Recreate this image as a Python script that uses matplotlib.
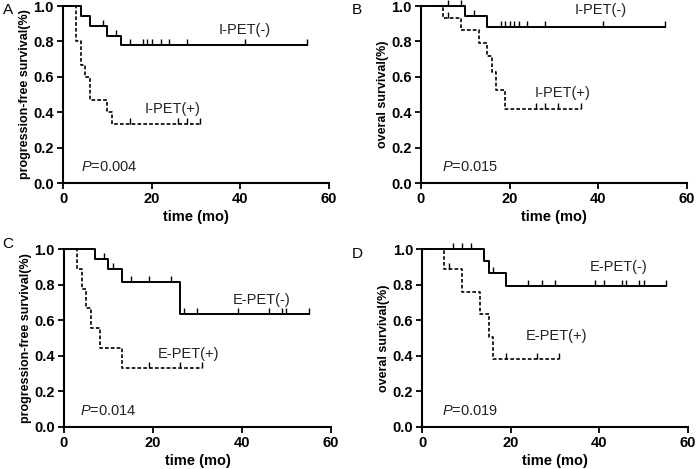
import numpy as np
import matplotlib
matplotlib.use("Agg")
import matplotlib.pyplot as plt

plt.rcParams['font.family'] = ['Liberation Sans', 'DejaVu Sans']
plt.rcParams['mathtext.fontset'] = 'custom'
plt.rcParams['mathtext.it'] = 'Liberation Sans:italic'
plt.rcParams['mathtext.rm'] = 'Liberation Sans'

# --- Datos (tiempos de evento, supervivencia, censuras) ---
# Panel A
a_neg_t = [4, 6, 10, 13]
a_neg_s = [0.944, 0.889, 0.833, 0.778]
a_neg_end = 55
a_neg_cens = [9, 12, 15, 18, 19, 20, 22, 24, 28, 41, 55]
a_pos_t = [3, 4, 5, 6, 10, 11]
a_pos_s = [0.8, 0.667, 0.6, 0.467, 0.4, 0.333]
a_pos_end = 31
a_pos_cens = [15, 26, 28, 31]

# Panel B
b_neg_t = [10, 15]
b_neg_s = [0.944, 0.88]
b_neg_end = 55
b_neg_cens = [6, 9, 12, 18, 19, 20, 21, 22, 24, 28, 41, 55]
b_pos_t = [5, 9, 13, 15, 16, 17, 19]
b_pos_s = [0.933, 0.862, 0.790, 0.717, 0.627, 0.523, 0.418]
b_pos_end = 36
b_pos_cens = [6, 26, 28, 31, 36]

# Panel C
c_neg_t = [7, 10, 13, 26]
c_neg_s = [0.944, 0.889, 0.815, 0.634]
c_neg_end = 55
c_neg_cens = [9, 11, 15, 19, 24, 27, 30, 39, 46, 49, 50, 55]
c_pos_t = [3, 4, 5, 6, 8, 13]
c_pos_s = [0.889, 0.778, 0.667, 0.556, 0.444, 0.333]
c_pos_end = 31
c_pos_cens = [19, 26, 31]

# Panel D
d_neg_t = [14, 15, 19]
d_neg_s = [0.933, 0.867, 0.795]
d_neg_end = 55
d_neg_cens = [7, 9, 11, 16, 24, 27, 30, 39, 41, 45, 46, 49, 50, 55]
d_pos_t = [5, 9, 13, 15, 16]
d_pos_s = [0.889, 0.762, 0.635, 0.508, 0.381]
d_pos_end = 31
d_pos_cens = [6, 19, 26, 31]

letters = ['A', 'B', 'C', 'D']
ylabels = ['progression-free survival(%)', 'overal survival(%)',
           'progression-free survival(%)', 'overal survival(%)']
neg_labels = ['I-PET(-)', 'I-PET(-)', 'E-PET(-)', 'E-PET(-)']
pos_labels = ['I-PET(+)', 'I-PET(+)', 'E-PET(+)', 'E-PET(+)']
p_values = ['0.004', '0.015', '0.014', '0.019']


def km_curve(ax, t, s, end, cens, dashed):
    # Construyo la curva escalonada desde t=0
    x = [0] + list(t) + [end]
    y = [1.0] + list(s) + [s[-1]]
    if dashed:
        ls, lw = (0, (2.2, 1.3)), 1.2
    else:
        ls, lw = '-', 1.4
    ax.step(x, y, where='post', color='black', ls=ls, lw=lw, clip_on=False)
    # Marcas de censura: valor del escalon en cada tiempo censurado
    yc = np.zeros(len(cens))
    for ci in range(len(cens)):
        idx = np.searchsorted(x, cens[ci], side='right') - 1
        yc[ci] = y[min(idx, len(y) - 1)]
    ax.plot(cens, yc, ls='none', marker=2, ms=4.5, mew=1.0, color='black', clip_on=False)


fig = plt.figure(figsize=(6.97, 4.69), dpi=100)
pos = [[0.0904, 0.6098, 0.3816, 0.3774],
       [0.6040, 0.6098, 0.3816, 0.3774],
       [0.0918, 0.0896, 0.3830, 0.3789],
       [0.6055, 0.0896, 0.3816, 0.3789]]

curves = [
    (a_neg_t, a_neg_s, a_neg_end, a_neg_cens, a_pos_t, a_pos_s, a_pos_end, a_pos_cens),
    (b_neg_t, b_neg_s, b_neg_end, b_neg_cens, b_pos_t, b_pos_s, b_pos_end, b_pos_cens),
    (c_neg_t, c_neg_s, c_neg_end, c_neg_cens, c_pos_t, c_pos_s, c_pos_end, c_pos_cens),
    (d_neg_t, d_neg_s, d_neg_end, d_neg_cens, d_pos_t, d_pos_s, d_pos_end, d_pos_cens),
]
neg_xy = [(35, 0.864), (34.7, 0.975), (38, 0.717), (37.9, 0.903)]
pos_xy = [(18.3, 0.42), (25.7, 0.506), (21.1, 0.41), (23.5, 0.51)]
p_xy = [(4.1, 0.09), (4.7, 0.09), (3.6, 0.09), (4.4, 0.09)]
letter_xy = [(0.004, 0.994), (0.504, 0.994), (0.003, 0.495), (0.505, 0.473)]

for i in range(4):
    ax = fig.add_axes(pos[i])
    nt, ns, ne, nc, pt, ps, pe, pc = curves[i]
    km_curve(ax, nt, ns, ne, nc, dashed=False)
    km_curve(ax, pt, ps, pe, pc, dashed=True)

    ax.set_xlim(0, 60)
    ax.set_ylim(0, 1.0)
    ax.set_xticks([0, 20, 40, 60])
    ax.set_yticks(np.arange(0, 1.01, 0.2))
    ax.set_yticklabels([f"{v:.1f}" for v in np.arange(0, 1.01, 0.2)])
    for sp in ['top', 'right']:
        ax.spines[sp].set_visible(False)
    for sp in ['left', 'bottom']:
        ax.spines[sp].set_linewidth(1.5)
    ax.tick_params(direction='out', length=4, width=1.3, labelsize=10.5, pad=2.5)
    for lab in ax.get_xticklabels() + ax.get_yticklabels():
        lab.set_fontweight('bold')
    ax.set_xlabel('time (mo)', fontsize=10.5, fontweight='bold', labelpad=3)
    ax.set_ylabel(ylabels[i], fontsize=9, fontweight='bold', labelpad=2)

    ax.text(neg_xy[i][0], neg_xy[i][1], neg_labels[i], fontsize=10.5, color='#222222', va='center')
    ax.text(pos_xy[i][0], pos_xy[i][1], pos_labels[i], fontsize=10.5, color='#222222', va='center')
    ax.text(p_xy[i][0], p_xy[i][1], r'$\it{P}$=' + p_values[i], fontsize=10.5, color='#222222', va='center')

    fig.text(letter_xy[i][0], letter_xy[i][1], letters[i], fontsize=11, va='top', ha='left')

fig.savefig('out.png', dpi=100)
